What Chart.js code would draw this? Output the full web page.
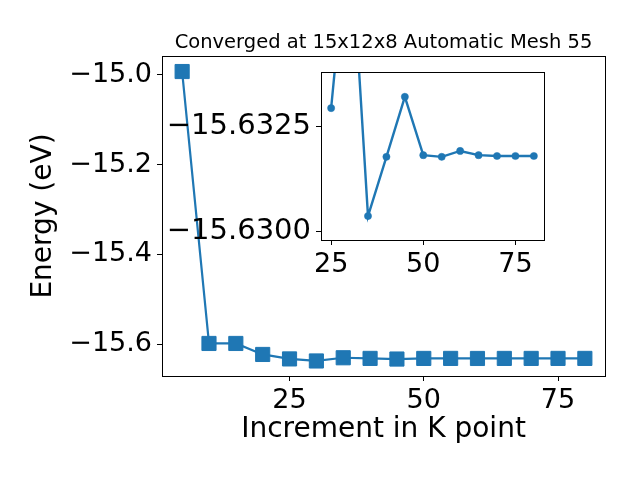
<!DOCTYPE html>
<html>
<head>
<meta charset="utf-8">
<script src="https://cdn.jsdelivr.net/npm/chart.js@4/dist/chart.umd.min.js"></script>
<style>
  body { margin: 0; background: #fff; }
  #wrap { position: relative; width: 640px; height: 480px; }
  #wrap canvas { position: absolute; left: 0; top: 0; }
</style>
</head>
<body>
<div id="wrap">
  <canvas id="main" width="640" height="480"></canvas>
  <canvas id="inset" width="640" height="480"></canvas>
</div>
<script>
// data
var kpoints = [5, 10, 15, 20, 25, 30, 35, 40, 45, 50, 55, 60, 65, 70, 75, 80];
var energy = [-14.9926, -15.5985, -15.5985, -15.623, -15.63294, -15.6375, -15.63037, -15.63178,
              -15.63321, -15.63182, -15.63178, -15.63192, -15.63182, -15.6318, -15.6318, -15.6318];
var mainXTicks = [25, 50, 75];
var mainYTicks = [-15.6, -15.4, -15.2, -15.0];
var insetXTicks = [25, 50, 75];
var insetYTicks = [-15.6325, -15.6300];
var insetStart = 4; // inset shows k = 25 .. 80

var blue = '#1f77b4';
var fam = '"DejaVu Sans", sans-serif';
Chart.defaults.font.family = fam;
Chart.defaults.color = '#000';

function minus(s) { return s.replace('-', '\u2212'); }
function pts(xs, ys) { return xs.map(function(x, i){ return {x: x, y: ys[i]}; }); }
function fixTicks(arr) { return function(scale){ scale.ticks = arr.map(function(v){ return {value: v}; }); }; }

var frame = {
  id: 'frame',
  beforeDraw: function(chart, args, opts) {
    if (!opts.fill) return;
    var a = chart.chartArea, c = chart.ctx;
    c.save(); c.fillStyle = '#fff';
    c.fillRect(a.left, a.top, a.right - a.left, a.bottom - a.top);
    c.restore();
  },
  afterDatasetsDraw: function(chart) {
    var a = chart.chartArea, c = chart.ctx;
    c.save(); c.strokeStyle = '#000'; c.lineWidth = 1;
    c.strokeRect(Math.round(a.left) + 0.5, Math.round(a.top) + 0.5,
                 Math.round(a.right - a.left), Math.round(a.bottom - a.top));
    c.restore();
  },
  afterDraw: function(chart, args, opts) {
    if (!opts.title) return;
    var a = chart.chartArea, c = chart.ctx;
    c.save(); c.fillStyle = '#000'; c.font = '19.5px ' + fam;
    c.textAlign = 'center'; c.textBaseline = 'alphabetic';
    c.fillText(opts.title, (a.left + a.right) / 2, 48);
    c.restore();
  }
};

function tickGrid() {
  return { display: true, drawOnChartArea: false, drawTicks: true, tickLength: 5, color: '#000', lineWidth: 1 };
}

new Chart(document.getElementById('main'), {
  type: 'line',
  data: {
    datasets: [{
      data: pts(kpoints, energy),
      borderColor: blue, backgroundColor: blue, borderWidth: 2.2,
      pointStyle: 'rect', pointRadius: 10, pointBorderWidth: 1,
      pointBackgroundColor: blue, pointBorderColor: blue
    }]
  },
  options: {
    responsive: false, animation: false,
    layout: { padding: { left: 0, top: 56, right: 35, bottom: 0 } },
    plugins: { legend: { display: false }, tooltip: { enabled: false },
      frame: { title: 'Converged at 15x12x8 Automatic Mesh 55' } },
    scales: {
      x: {
        type: 'linear', min: 1.25, max: 83.75,
        afterBuildTicks: fixTicks(mainXTicks),
        afterFit: function(s){ s.height = 104; },
        grid: tickGrid(), border: { display: false },
        ticks: { font: { size: 27 }, padding: 4, maxRotation: 0, callback: function(v){ return String(v); } },
        title: { display: true, text: 'Increment in K point', font: { size: 28 }, padding: { bottom: 33 } }
      },
      y: {
        min: -15.671, max: -14.958,
        afterBuildTicks: fixTicks(mainYTicks),
        afterFit: function(s){ s.width = 162; },
        grid: tickGrid(), border: { display: false },
        ticks: { font: { size: 27 }, padding: 5, callback: function(v){ return minus(v.toFixed(1)); } },
        title: { display: true, text: 'Energy (eV)', font: { size: 28 }, padding: { top: 27 } }
      }
    }
  },
  plugins: [frame]
});

new Chart(document.getElementById('inset'), {
  type: 'line',
  data: {
    datasets: [{
      data: pts(kpoints.slice(insetStart), energy.slice(insetStart)),
      borderColor: blue, backgroundColor: blue, borderWidth: 2.4,
      pointStyle: 'circle', pointRadius: 3.6, pointBorderWidth: 0.5,
      pointBackgroundColor: blue, pointBorderColor: blue
    }]
  },
  options: {
    responsive: false, animation: false,
    layout: { padding: { left: 0, top: 72, right: 96, bottom: 0 } },
    plugins: { legend: { display: false }, tooltip: { enabled: false }, frame: { fill: true } },
    scales: {
      x: {
        type: 'linear', min: 22.25, max: 82.75,
        afterBuildTicks: fixTicks(insetXTicks),
        afterFit: function(s){ s.height = 240; },
        grid: tickGrid(), border: { display: false },
        ticks: { font: { size: 27 }, padding: 4, maxRotation: 0, callback: function(v){ return String(v); } }
      },
      y: {
        reverse: true, min: -15.6338, max: -15.6298,
        afterBuildTicks: fixTicks(insetYTicks),
        afterFit: function(s){ s.width = 321; },
        grid: tickGrid(), border: { display: false },
        ticks: { font: { size: 29 }, padding: 5, callback: function(v){ return minus(v.toFixed(4)); } }
      }
    }
  },
  plugins: [frame]
});
</script>
</body>
</html>
